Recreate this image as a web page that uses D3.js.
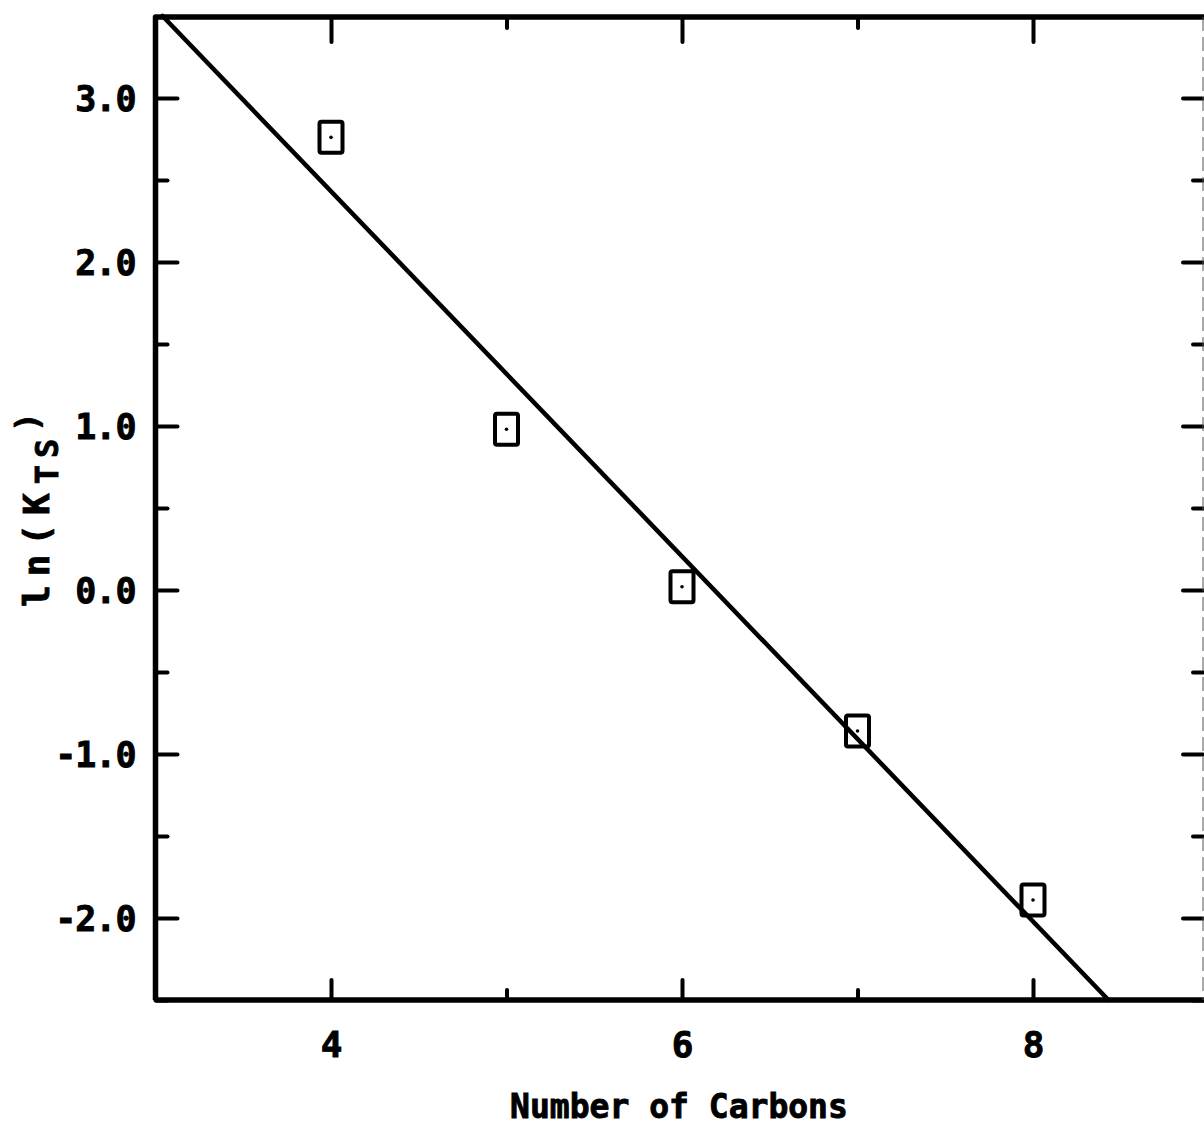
<!DOCTYPE html>
<html>
<head>
<meta charset="utf-8">
<script src="https://cdn.jsdelivr.net/npm/d3@7"></script>
<style>
  html, body { margin: 0; padding: 0; background: #fff; }
  svg { display: block; }
  .lbl { font-family: "DejaVu Sans Mono", monospace; font-weight: bold; fill: #000; stroke: #000; stroke-width: 0.9; }
</style>
</head>
<body>
<svg id="chart" width="1204" height="1128"></svg>
<script>
// Measured ln(K_TS) against number of carbons
const carbons = [4, 5, 6, 7, 8];
const lnKts = [2.76, 0.98, 0.02, -0.86, -1.89];

// Least-squares fit line, drawn between its two end points inside the frame
const fitX = [3.04, 8.43];
const fitY = [3.5, -2.5];

// Axis ticks
const xMajor = [4, 6, 8];
const xMinor = [5, 7];
const xTickLabels = ["4", "6", "8"];
const yMajor = [-2, -1, 0, 1, 2, 3];
const yMinor = [-2.5, -1.5, -0.5, 0.5, 1.5, 2.5];
const yTickLabels = ["-2.0", "-1.0", "0.0", "1.0", "2.0", "3.0"];

const svg = d3.select("#chart");
const frameLeft = 155.5, frameTop = 17, frameBottom = 1000, frameRight = 1203;

const x = d3.scaleLinear().domain([3, 9]).range([frameLeft, 1208.5]);
const y = d3.scaleLinear().domain([-2.5, 3.5]).range([frameBottom, 16]);

const tickW = 4;

function styleAxis(g) {
  g.select(".domain").remove();
  g.selectAll(".tick line").attr("stroke", "#000").attr("stroke-width", tickW).attr("stroke-linecap", "round");
}

// Left axis: labelled major ticks pointing in, short minor ticks
svg.append("g").attr("transform", `translate(${frameLeft},0)`)
  .call(d3.axisLeft(y).tickValues(yMajor).tickSize(-22).tickPadding(20)
    .tickFormat((d, i) => yTickLabels[i]))
  .call(styleAxis)
  .call(g => g.selectAll("text").attr("class", "lbl").attr("font-size", 35).attr("letter-spacing", -1).attr("dy", "0.36em"));
svg.append("g").attr("transform", `translate(${frameLeft},0)`)
  .call(d3.axisLeft(y).tickValues(yMinor).tickSize(-12).tickFormat(""))
  .call(styleAxis);

// Right axis ticks
svg.append("g").attr("transform", `translate(${frameRight},0)`)
  .call(d3.axisRight(y).tickValues(yMajor).tickSize(-20).tickFormat(""))
  .call(styleAxis);
svg.append("g").attr("transform", `translate(${frameRight},0)`)
  .call(d3.axisRight(y).tickValues(yMinor).tickSize(-10).tickFormat(""))
  .call(styleAxis);

// Bottom axis
svg.append("g").attr("transform", `translate(0,${frameBottom})`)
  .call(d3.axisBottom(x).tickValues(xMajor).tickSize(-20).tickPadding(31)
    .tickFormat((d, i) => xTickLabels[i]))
  .call(styleAxis)
  .call(g => g.selectAll("text").attr("class", "lbl").attr("font-size", 36).attr("dy", "0.71em"));
svg.append("g").attr("transform", `translate(0,${frameBottom})`)
  .call(d3.axisBottom(x).tickValues(xMinor).tickSize(-10).tickFormat(""))
  .call(styleAxis);

// Top axis
svg.append("g").attr("transform", `translate(0,${frameTop})`)
  .call(d3.axisTop(x).tickValues(xMajor).tickSize(-25).tickFormat(""))
  .call(styleAxis);
svg.append("g").attr("transform", `translate(0,${frameTop})`)
  .call(d3.axisTop(x).tickValues(xMinor).tickSize(-11).tickFormat(""))
  .call(styleAxis);

// Frame
svg.append("path")
  .attr("d", `M${frameLeft},${frameBottom} L${frameLeft},${frameTop} L${frameRight + 2},${frameTop}`)
  .attr("fill", "none").attr("stroke", "#000").attr("stroke-width", 5.5).attr("stroke-linejoin", "round");
svg.append("line")
  .attr("x1", frameLeft).attr("x2", frameRight + 2).attr("y1", frameBottom).attr("y2", frameBottom)
  .attr("stroke", "#000").attr("stroke-width", 5.5);
svg.append("line")
  .attr("x1", frameRight).attr("x2", frameRight).attr("y1", frameTop).attr("y2", frameBottom)
  .attr("stroke", "#555").attr("stroke-width", 1).attr("stroke-dasharray", "14,6");

// Fit line
const lineGen = d3.line().x(d => x(d[0])).y(d => y(d[1]));
svg.append("path")
  .datum(d3.zip(fitX, fitY))
  .attr("d", lineGen)
  .attr("fill", "none").attr("stroke", "#000").attr("stroke-width", 4.5).attr("stroke-linecap", "round");

// Data markers: open boxes with a centre dot
const pts = d3.zip(carbons, lnKts);
const bw = 23, bh = 31;
const mk = svg.append("g").selectAll("g").data(pts).join("g")
  .attr("transform", d => `translate(${x(d[0])},${y(d[1])})`);
mk.append("rect")
  .attr("x", -bw / 2).attr("y", -bh / 2).attr("width", bw).attr("height", bh).attr("rx", 2)
  .attr("fill", "none").attr("stroke", "#000").attr("stroke-width", 4);
mk.append("circle").attr("r", 1.8).attr("fill", "#000");

// Axis titles
svg.append("text").attr("class", "lbl")
  .attr("x", 679).attr("y", 1118)
  .attr("text-anchor", "middle").attr("font-size", 33)
  .text("Number of Carbons");

const yt = svg.append("text").attr("class", "lbl")
  .attr("transform", "translate(49,607) rotate(-90)")
  .attr("font-size", 36).attr("letter-spacing", 9);
yt.append("tspan").text("ln(K");
yt.append("tspan").attr("dy", 9).attr("font-size", 32).attr("letter-spacing", 7).text("TS");
yt.append("tspan").attr("dy", -20).attr("font-size", 32).text(")");
</script>
</body>
</html>
